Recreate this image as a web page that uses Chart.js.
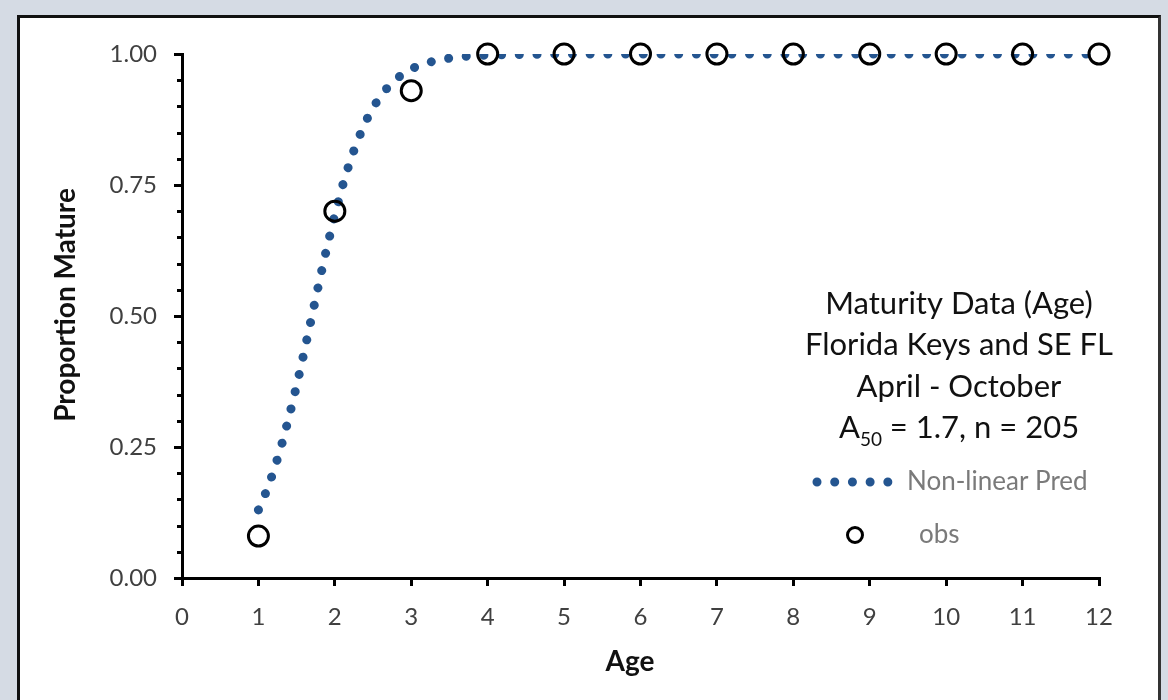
<!DOCTYPE html>
<html>
<head>
<meta charset="utf-8">
<title>Maturity Data (Age)</title>
<script src="https://cdn.jsdelivr.net/npm/chart.js@4.4.1/dist/chart.umd.min.js"></script>
<style>
  html, body { margin: 0; padding: 0; }
  body { width: 1168px; height: 700px; background: #d5dbe4; position: relative; overflow: hidden; }
  #panel {
    position: absolute; left: 17px; top: 15px; width: 1138px; height: 683px;
    background: #fff;
    border-left: 3px solid #111; border-top: 3px solid #111;
    border-right: 3px solid #333; border-bottom: 1px solid #c8c8c8;
  }
  #wrap { position: absolute; left: 0; top: 0; width: 1168px; height: 700px; }
</style>
</head>
<body>
<div id="panel"></div>
<div id="wrap"><canvas id="chart" width="1168" height="700"></canvas></div>
<script>
// fitted logistic curve (A50 = 1.7)
const ageFit = [1.0, 1.1, 1.2, 1.3, 1.4, 1.5, 1.6, 1.7, 1.8, 1.9, 2.0, 2.1, 2.2, 2.3, 2.4, 2.5,
  2.6, 2.7, 2.8, 2.9, 3.0, 3.2, 3.4, 3.6, 3.8, 4, 5, 6, 7, 8, 9, 10, 11, 12];
const predMature = [0.130, 0.164, 0.204, 0.252, 0.307, 0.367, 0.432, 0.500, 0.568, 0.633, 0.693,
  0.748, 0.796, 0.836, 0.870, 0.898, 0.920, 0.938, 0.952, 0.963, 0.972, 0.983, 0.990, 0.994,
  0.997, 0.998, 1, 1, 1, 1, 1, 1, 1, 1];

// observed proportion mature by age
const ageObs = [1, 2, 3, 4, 5, 6, 7, 8, 9, 10, 11, 12];
const propObs = [0.08, 0.70, 0.93, 1, 1, 1, 1, 1, 1, 1, 1, 1];

const infoLines = ['Maturity Data (Age)', 'Florida Keys and SE FL', 'April - October'];
const yMinorStep = 0.05;

const FONT = 'Lato, "Open Sans", sans-serif';
const PRED_COLOR = '#245590';
const DOT_DASH = [0.01, 17.7];

// minor ticks, axis titles, info text and legend
const decorations = {
  id: 'decorations',
  afterDraw(chart) {
    const ctx = chart.ctx;
    const x = chart.scales.x;
    const y = chart.scales.y;
    ctx.save();

    // minor y ticks between the labelled ones
    ctx.strokeStyle = '#000';
    ctx.lineWidth = 3;
    for (let v = yMinorStep; v < 1; v += yMinorStep) {
      const r = Math.round(v * 100);
      if (r % 25 === 0) continue;
      const py = Math.round(y.getPixelForValue(r / 100)) + 0.5;
      ctx.beginPath();
      ctx.moveTo(x.left - 5, py);
      ctx.lineTo(x.left, py);
      ctx.stroke();
    }

    // axis titles
    ctx.fillStyle = '#111';
    ctx.font = 'bold 28px ' + FONT;
    ctx.textAlign = 'center';
    ctx.textBaseline = 'middle';
    ctx.fillText('Age', 630, 662);
    ctx.save();
    ctx.translate(66, 305);
    ctx.rotate(-Math.PI / 2);
    ctx.fillText('Proportion Mature', 0, 0);
    ctx.restore();

    // info block
    const cx = 959;
    ctx.fillStyle = '#111';
    ctx.font = '31px ' + FONT;
    ctx.textBaseline = 'alphabetic';
    const baselines = [314, 355, 397];
    infoLines.forEach((t, i) => ctx.fillText(t, cx, baselines[i]));

    // A50 line with subscript
    const big = '31px ' + FONT, small = '19px ' + FONT;
    ctx.font = big;
    const wA = ctx.measureText('A').width;
    const rest = ' = 1.7, n = 205';
    const wRest = ctx.measureText(rest).width;
    ctx.font = small;
    const wSub = ctx.measureText('50').width;
    let sx = cx - (wA + wSub + wRest) / 2;
    ctx.textAlign = 'left';
    ctx.font = big;
    ctx.fillText('A', sx, 438);
    ctx.font = small;
    ctx.fillText('50', sx + wA, 446);
    ctx.font = big;
    ctx.fillText(rest, sx + wA + wSub, 438);

    // legend
    const pred = chart.data.datasets[1];
    const obs = chart.data.datasets[0];
    ctx.strokeStyle = pred.borderColor;
    ctx.lineWidth = pred.borderWidth;
    ctx.lineCap = 'round';
    ctx.setLineDash(DOT_DASH);
    ctx.beginPath();
    ctx.moveTo(817, 482);
    ctx.lineTo(892, 482);
    ctx.stroke();
    ctx.setLineDash([]);

    ctx.strokeStyle = obs.pointBorderColor;
    ctx.lineWidth = 3;
    ctx.beginPath();
    ctx.arc(855, 535, 7.5, 0, Math.PI * 2);
    ctx.stroke();

    ctx.fillStyle = '#7a7a7a';
    ctx.font = '26px ' + FONT;
    ctx.textBaseline = 'alphabetic';
    ctx.fillText(pred.label, 907, 490);
    ctx.fillText(obs.label, 919, 543);

    ctx.restore();
  }
};

function buildChart() {
  const ctx = document.getElementById('chart');
  new Chart(ctx, {
    type: 'scatter',
    data: {
      datasets: [
        {
          label: 'obs',
          data: ageObs.map((a, i) => ({ x: a, y: propObs[i] })),
          showLine: false,
          pointStyle: 'circle',
          pointRadius: 10,
          pointHoverRadius: 10,
          pointBorderWidth: 3,
          pointBorderColor: '#000',
          pointBackgroundColor: 'rgba(0,0,0,0)',
          clip: false,
          order: 0
        },
        {
          label: 'Non-linear Pred',
          data: ageFit.map((a, i) => ({ x: a, y: predMature[i] })),
          showLine: true,
          borderColor: PRED_COLOR,
          borderWidth: 9,
          borderDash: DOT_DASH,
          borderCapStyle: 'round',
          borderJoinStyle: 'round',
          pointRadius: 0,
          pointHoverRadius: 0,
          fill: false,
          clip: 0,
          order: 1
        }
      ]
    },
    options: {
      responsive: false,
      animation: false,
      events: [],
      layout: { padding: { top: 54, right: 69, left: 0, bottom: 0 } },
      plugins: {
        legend: { display: false },
        tooltip: { enabled: false }
      },
      scales: {
        x: {
          type: 'linear',
          min: 0,
          max: 12,
          afterFit: s => { s.height = 122; },
          border: { display: true, color: '#000', width: 3 },
          grid: { display: true, drawOnChartArea: false, drawTicks: true, tickLength: 8, color: '#000', lineWidth: 3 },
          ticks: { stepSize: 1, color: '#404040', font: { family: FONT, size: 24 }, padding: 17, maxRotation: 0 }
        },
        y: {
          type: 'linear',
          min: 0,
          max: 1,
          afterFit: s => { s.width = 182; },
          border: { display: true, color: '#000', width: 3 },
          grid: { display: true, drawOnChartArea: false, drawTicks: true, tickLength: 8, color: '#000', lineWidth: 3 },
          ticks: {
            stepSize: 0.25,
            color: '#404040',
            font: { family: FONT, size: 24 },
            padding: 17,
            callback: v => v.toFixed(2)
          }
        }
      }
    },
    plugins: [decorations]
  });
}

if (document.fonts && document.fonts.load) {
  Promise.all([
    document.fonts.load('24px Lato'),
    document.fonts.load('bold 28px Lato')
  ]).then(buildChart, buildChart);
} else {
  buildChart();
}
</script>
</body>
</html>
